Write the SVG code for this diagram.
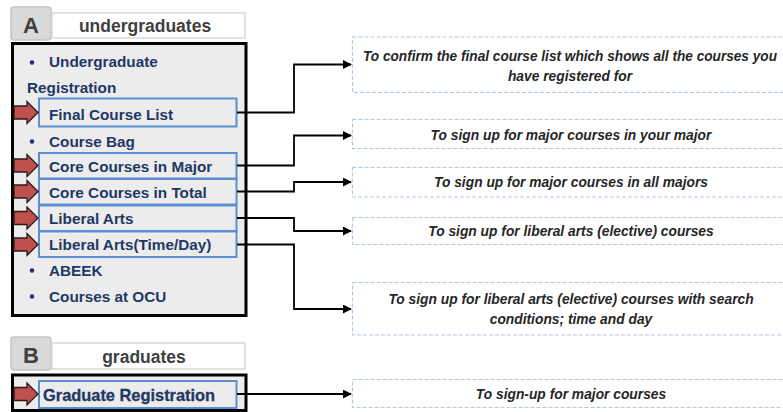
<svg xmlns="http://www.w3.org/2000/svg" width="783" height="412" viewBox="0 0 783 412">
<style>
.hdrtag{fill:#d9d9d9;stroke:#c4c4c4;stroke-width:1.5}
.hdrbox{fill:#ffffff;stroke:#d9d9d9;stroke-width:1.5}
.hdrletter{font-family:"Liberation Sans",Arial,sans-serif;font-weight:bold;font-size:22px;fill:#404040;text-anchor:middle}
.hdrtext{font-family:"Liberation Sans",Arial,sans-serif;font-weight:bold;font-size:17.5px;fill:#404040;text-anchor:middle}
.panel{fill:#ececec;stroke:#000000;stroke-width:3}
.item{fill:#ececec;stroke:#5b8fd0;stroke-width:2}
.lt{font-family:"Liberation Sans",Arial,sans-serif;font-weight:bold;font-size:15.3px;fill:#1f3864}
.bul{fill:#1f2f80}
.red{fill:#c0504d;stroke:#2b1a1a;stroke-width:1.3;stroke-linejoin:miter}
.desc{fill:#ffffff;stroke:#b4c7e7;stroke-width:1.2;stroke-dasharray:4 2}
.dt{font-family:"Liberation Sans",Arial,sans-serif;font-weight:bold;font-style:italic;font-size:13.8px;fill:#262626;text-anchor:middle}
.conn{fill:none;stroke:#000000;stroke-width:1.8;marker-end:url(#ah)}
</style>
<defs>
<marker id="ah" viewBox="0 0 10 10" refX="9" refY="5" markerWidth="5" markerHeight="5" markerUnits="strokeWidth" orient="auto">
<path d="M0,0 L10,5 L0,10 Z" fill="#000000"/>
</marker>
<path id="ra" d="M-24,-6.5 H-11 V-11 L0,0 L-11,11 V6.5 H-24 Z"/>
</defs>

<g id="headerA">
<rect class="hdrtag" x="11" y="7" width="40" height="33" rx="3"/>
<rect class="hdrbox" x="52" y="13" width="193" height="25"/>
<text class="hdrletter" x="31" y="33">A</text>
<text class="hdrtext" x="145" y="32">undergraduates</text>
</g>

<g id="panelA">
<rect class="panel" x="12.5" y="43.5" width="233.5" height="272"/>
<circle class="bul" cx="32" cy="62.5" r="2.2"/>
<text class="lt" x="49" y="67">Undergraduate</text>
<text class="lt" x="27" y="93">Registration</text>
<circle class="bul" cx="32" cy="141.5" r="2.2"/>
<text class="lt" x="49" y="146.5">Course Bag</text>
<circle class="bul" cx="32" cy="270.5" r="2.2"/>
<text class="lt" x="49" y="275.5">ABEEK</text>
<circle class="bul" cx="32" cy="296.5" r="2.2"/>
<text class="lt" x="49" y="301.5">Courses at OCU</text>
</g>

<g id="finalCourseList">
<rect class="item" x="39" y="98.5" width="197.5" height="28"/>
<use href="#ra" class="red" x="38" y="112.5"/>
<text class="lt" x="49" y="119.5">Final Course List</text>
</g>
<g id="coreMajor">
<rect class="item" x="39" y="153" width="197.5" height="25.5"/>
<use href="#ra" class="red" x="38" y="165.5"/>
<text class="lt" x="49" y="171.5">Core Courses in Major</text>
</g>
<g id="coreTotal">
<rect class="item" x="39" y="179" width="197.5" height="25.5"/>
<use href="#ra" class="red" x="38" y="191.5"/>
<text class="lt" x="49" y="197.5">Core Courses in Total</text>
</g>
<g id="liberalArts">
<rect class="item" x="39" y="205.5" width="197.5" height="25.5"/>
<use href="#ra" class="red" x="38" y="218"/>
<text class="lt" x="49" y="224">Liberal Arts</text>
</g>
<g id="liberalArtsTimeDay">
<rect class="item" x="39" y="231.5" width="197.5" height="25.5"/>
<use href="#ra" class="red" x="38" y="244.5"/>
<text class="lt" x="49" y="250">Liberal Arts(Time/Day)</text>
</g>

<g id="headerB">
<rect class="hdrtag" x="11" y="337" width="40" height="33" rx="3"/>
<rect class="hdrbox" x="52" y="343" width="193" height="26"/>
<text class="hdrletter" x="31" y="363">B</text>
<text class="hdrtext" x="144" y="363">graduates</text>
</g>

<g id="panelB">
<rect class="panel" x="12.5" y="375" width="233.5" height="35.5"/>
</g>
<g id="graduateRegistration">
<rect class="item" x="39" y="381" width="197.5" height="27"/>
<use href="#ra" class="red" x="38" y="394"/>
<text class="lt" x="43" y="400.5" style="font-size:16.4px;stroke:#1f3864;stroke-width:0.3">Graduate Registration</text>
</g>

<g id="desc1">
<rect class="desc" x="352.5" y="37" width="440" height="55.5"/>
<text class="dt" x="570" y="60.5" textLength="414" lengthAdjust="spacingAndGlyphs">To confirm the final course list which shows all the courses you</text>
<text class="dt" x="570" y="80.5">have registered for</text>
</g>
<g id="desc2">
<rect class="desc" x="352.5" y="119.5" width="440" height="29"/>
<text class="dt" x="571" y="139.5">To sign up for major courses in your major</text>
</g>
<g id="desc3">
<rect class="desc" x="352.5" y="167.5" width="440" height="29.5"/>
<text class="dt" x="571" y="187">To sign up for major courses in all majors</text>
</g>
<g id="desc4">
<rect class="desc" x="352.5" y="217.5" width="440" height="27"/>
<text class="dt" x="571" y="236">To sign up for liberal arts (elective) courses</text>
</g>
<g id="desc5">
<rect class="desc" x="352.5" y="282.5" width="440" height="52.5"/>
<text class="dt" x="571" y="304">To sign up for liberal arts (elective) courses with search</text>
<text class="dt" x="571" y="324">conditions; time and day</text>
</g>
<g id="desc6">
<rect class="desc" x="352.5" y="379.5" width="440" height="28"/>
<text class="dt" x="571" y="398.5">To sign-up for major courses</text>
</g>

<g id="connectors">
<path class="conn" d="M237,112.5 H294 V64.5 H351"/>
<path class="conn" d="M237,165.5 H294 V135.5 H351"/>
<path class="conn" d="M237,191.5 H294 V182 H351"/>
<path class="conn" d="M237,218 H294 V231 H351"/>
<path class="conn" d="M237,244.5 H294 V309 H351"/>
<path class="conn" d="M237,394 H351"/>
</g>
</svg>
